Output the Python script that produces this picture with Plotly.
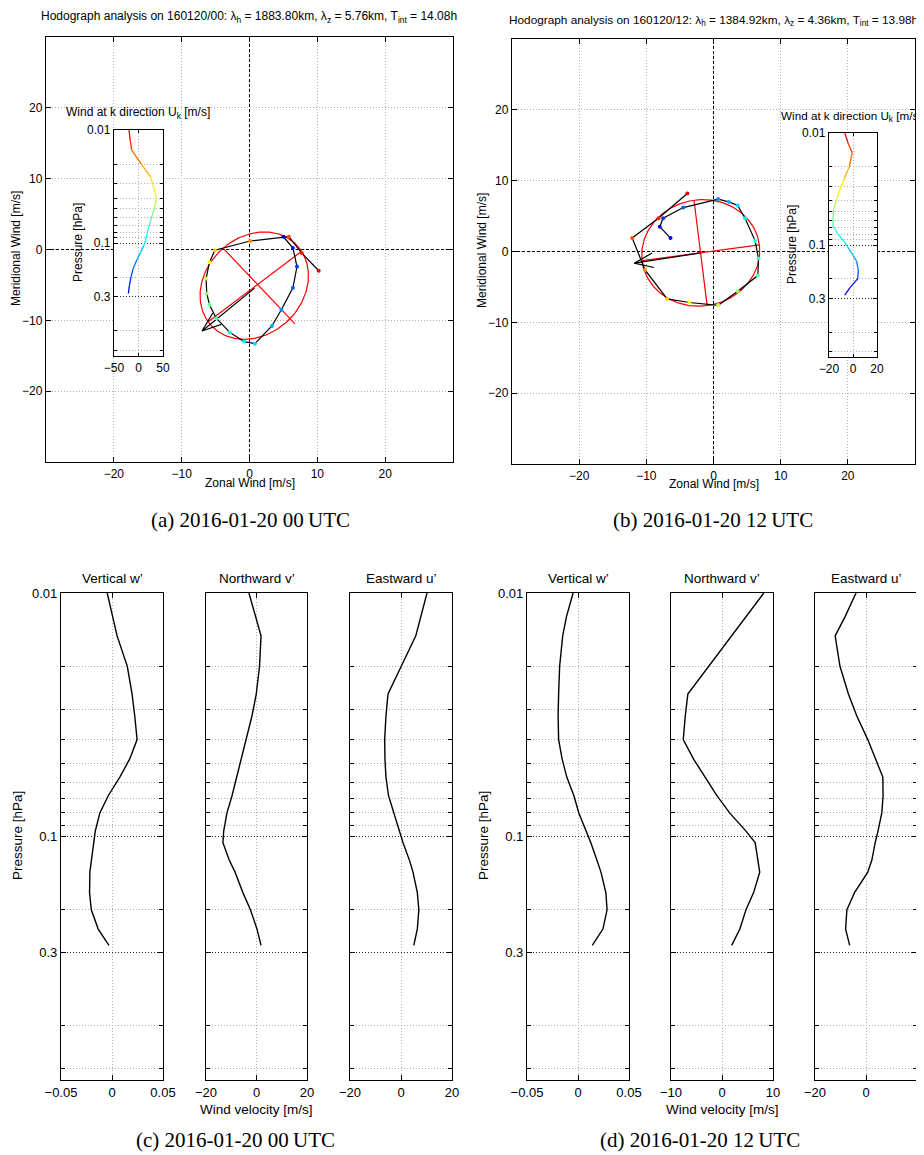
import numpy as np
import plotly.graph_objects as go

# page coordinates of the reference (924 x 1155); the page body adds an 8 px margin
PAGE_W, PAGE_H, OFF = 924, 1155, 8
FW, FH = PAGE_W - OFF, PAGE_H - OFF

# ---------------- data ----------------
# pressure levels [hPa] shared by all profiles (top -> bottom)
P = [0.01, 0.0125, 0.015, 0.02, 0.026, 0.032, 0.04, 0.048, 0.057, 0.068,
     0.08, 0.095, 0.106, 0.125, 0.14, 0.17, 0.2, 0.24, 0.28]

# 2016-01-20 00 UTC perturbations
W_C = [-0.0047, 0.001, 0.005, 0.015, 0.0197, 0.0223, 0.0246, 0.0174, 0.0077, -0.0037,
       -0.0119, -0.0164, -0.018, -0.020, -0.0217, -0.022, -0.0203, -0.0135, -0.003]
V_C = [-3.0, -0.5, 1.8, 1.2, -0.1, -1.8, -4.1, -6.2, -7.8, -9.7,
       -11.7, -13.0, -13.3, -10.8, -8.5, -5.4, -2.4, 0.2, 1.8]
U_C = [10.2, 7.7, 5.8, 0.1, -5.1, -5.9, -6.4, -6.3, -5.9, -4.9,
       -2.9, -0.8, 0.8, 3.3, 4.7, 6.4, 7.0, 6.4, 5.0]
UK_A = [-19.4, -16.7, -14.0, 5.8, 24.8, 30.9, 36.4, 33.0, 28.0, 22.8,
        18.0, 14.6, 10.5, 2.4, -3.0, -11.2, -15.3, -18.7, -20.7]

# 2016-01-20 12 UTC perturbations
W_D = [-0.0048, -0.0113, -0.015, -0.018, -0.019, -0.0195, -0.019, -0.0156, -0.011, -0.004,
       0.0008, 0.008, 0.0126, 0.0185, 0.0225, 0.0273, 0.0285, 0.0244, 0.014]
V_D = [8.2, 4.7, 1.9, -2.6, -6.7, -7.2, -7.6, -5.6, -3.4, -1.0,
       1.5, 4.7, 6.5, 7.0, 7.4, 6.2, 4.7, 3.5, 1.9]
U_D = [-3.9, -8.2, -12.1, -10.2, -6.9, -3.6, 0.7, 3.6, 6.6, 6.7,
       6.2, 4.7, 3.6, 2.3, 0.7, -4.5, -7.5, -8.0, -6.4]
UK_B = [-6.8, -3.9, -0.6, -3.1, -7.6, -11.0, -13.8, -16.1, -16.6, -16.6,
        -12.4, -6.8, -3.9, 0.3, 3.1, 4.5, 3.9, -2.5, -6.8]

# fitted ellipses: centre (u, v), semi-axes (a, b), tilt [deg]
ELL_CENTER_A = [0.7, -5.1]
ELL_SEMI_A = [8.5, 7.0]
ELL_TILT_A = 37
ELL_CENTER_B = [-1.9, -0.2]
ELL_SEMI_B = [8.8, 7.5]
ELL_TILT_B = 7

# red axis lines (u list, v list)
MAJOR_A_U, MAJOR_A_V = [7.7, -6.1], [-0.24, -10.2]
MINOR_A_U, MINOR_A_V = [-3.8, 6.7], [0.1, -10.5]
MAJOR_B_U, MAJOR_B_V = [6.8, -10.6], [0.94, -1.3]
MINOR_B_U, MINOR_B_V = [-2.9, -0.95], [7.2, -7.6]

# arrows (start u, start v, end u, end v)
ARROW_A = [0.75, -5.45, -7.0, -11.5]
ARROW_B = [-1.9, -0.2, -11.8, -1.65]

HODO_RANGE = [-30, 30]
HODO_TICKS = [-20, -10, 0, 10, 20]
HODO_TEXT = ["\u221220", "\u221210", "0", "10", "20"]
PRESS_TICKS = [0.01, 0.1, 0.3]
PRESS_TEXT = ["0.01", "0.1", "0.3"]
PRESS_MINOR = [0.02, 0.03, 0.04, 0.05, 0.06, 0.07, 0.08, 0.09, 0.2, 0.6, 0.9]

TITLE_A = ("Hodograph analysis on 160120/00: \u03bb<sub>h</sub> = 1883.80km, "
           "\u03bb<sub>z</sub> = 5.76km, T<sub>int</sub> = 14.08h")
TITLE_B = ("Hodograph analysis on 160120/12: \u03bb<sub>h</sub> = 1384.92km, "
           "\u03bb<sub>z</sub> = 4.36km, T<sub>int</sub> = 13.98h")

SANS = "Liberation Sans"
SERIF = "Liberation Serif"


def jet(t):
    r = min(max(1.5 - abs(4 * t - 3), 0), 1)
    g = min(max(1.5 - abs(4 * t - 2), 0), 1)
    b = min(max(1.5 - abs(4 * t - 1), 0), 1)
    return "rgb(%d,%d,%d)" % (255 * r, 255 * g, 255 * b)


lp = np.log10(P)
tnorm = (lp.max() - lp) / (lp.max() - lp.min())
COLORS = [jet(0.1 + 0.8 * t) for t in tnorm]


def xd(p0, p1):
    return [(p0 - OFF) / FW, (p1 - OFF) / FW]


def yd(p0, p1):
    return [1 - (p1 - OFF) / FH, 1 - (p0 - OFF) / FH]


def names(n):
    s = "" if n == 1 else str(n)
    return "x" + s, "y" + s, "xaxis" + s, "yaxis" + s


def base_axis(**kw):
    d = dict(showline=True, linecolor="black", linewidth=1.3, mirror="ticks",
             ticks="inside", ticklen=5, tickwidth=1, tickcolor="black",
             showgrid=True, gridcolor="#b0b0b0", griddash="1px,2px", gridwidth=1,
             zeroline=False, fixedrange=True, automargin=False,
             tickfont=dict(family=SANS, size=12, color="black"))
    d.update(kw)
    return d


def press_axis(domain, anchor, labels=True, size=12, ticklen=5):
    return base_axis(domain=domain, anchor=anchor, type="log", range=[0, -2],
                     tickvals=PRESS_TICKS, ticktext=PRESS_TEXT, showticklabels=labels,
                     gridcolor="#222222", ticklen=ticklen,
                     tickfont=dict(family=SANS, size=size, color="black"),
                     minor=dict(tickvals=PRESS_MINOR, ticks="inside", ticklen=ticklen - 1,
                                tickcolor="black", showgrid=True, gridcolor="#b0b0b0",
                                griddash="1px,2px", gridwidth=1))


fig = go.Figure()
layout = dict(width=FW, height=FH, margin=dict(l=0, r=0, t=0, b=0, autoexpand=False),
              autosize=False, paper_bgcolor="white", plot_bgcolor="white", showlegend=False)
annotations = []


def ann(text, px, py, size, family=SANS, angle=0):
    annotations.append(dict(text=text, x=(px - OFF) / FW, y=1 - (py - OFF) / FH,
                            xref="paper", yref="paper",
                            showarrow=False, textangle=angle, xanchor="center", yanchor="middle",
                            font=dict(family=family, size=size, color="black")))


def ellipse(center, semi, tilt):
    th = np.deg2rad(tilt)
    s = np.linspace(0, 2 * np.pi, 240)
    u = center[0] + semi[0] * np.cos(s) * np.cos(th) - semi[1] * np.sin(s) * np.sin(th)
    v = center[1] + semi[0] * np.cos(s) * np.sin(th) + semi[1] * np.sin(s) * np.cos(th)
    return u, v


def hodograph(n, u, v, center, semi, tilt, major, minor, arrow, dom_x, dom_y):
    xa, ya, xk, yk = names(n)
    layout[xk] = base_axis(domain=dom_x, anchor=ya, range=HODO_RANGE,
                           tickvals=HODO_TICKS, ticktext=HODO_TEXT)
    layout[yk] = base_axis(domain=dom_y, anchor=xa, range=HODO_RANGE,
                           tickvals=HODO_TICKS, ticktext=HODO_TEXT)
    # dashed zero lines
    for lx, ly in (([0, 0], HODO_RANGE), (HODO_RANGE, [0, 0])):
        fig.add_trace(go.Scatter(x=lx, y=ly, mode="lines",
                                 line=dict(color="black", width=1, dash="3px,2px"),
                                 xaxis=xa, yaxis=ya, hoverinfo="skip"))
    eu, ev = ellipse(center, semi, tilt)
    fig.add_trace(go.Scatter(x=eu, y=ev, mode="lines", line=dict(color="red", width=1.2),
                             xaxis=xa, yaxis=ya, hoverinfo="skip"))
    for lu, lv in (major, minor):
        fig.add_trace(go.Scatter(x=lu, y=lv, mode="lines", line=dict(color="red", width=1.2),
                                 xaxis=xa, yaxis=ya, hoverinfo="skip"))
    # arrow with open head
    su, sv, tu, tv = arrow
    d = np.array([su - tu, sv - tv])
    d = d / np.hypot(*d)
    bl = 3.0
    barbs = []
    for ang in (20, -20):
        a = np.deg2rad(ang)
        r = np.array([d[0] * np.cos(a) - d[1] * np.sin(a), d[0] * np.sin(a) + d[1] * np.cos(a)])
        barbs.append((tu + bl * r[0], tv + bl * r[1]))
    fig.add_trace(go.Scatter(x=[su, tu, barbs[0][0], None, tu, barbs[1][0]],
                             y=[sv, tv, barbs[0][1], None, tv, barbs[1][1]],
                             mode="lines", line=dict(color="black", width=1.2),
                             xaxis=xa, yaxis=ya, hoverinfo="skip"))
    fig.add_trace(go.Scatter(x=u, y=v, mode="lines+markers",
                             line=dict(color="black", width=1.2),
                             marker=dict(color=COLORS, size=4),
                             xaxis=xa, yaxis=ya, hoverinfo="skip"))


def tick_text(xt):
    return [("\u2212%g" % -t) if t < 0 else "%g" % t for t in xt]


def inset(n, uk, xr, xt, dom_x, dom_y):
    xa, ya, xk, yk = names(n)
    layout[xk] = base_axis(domain=dom_x, anchor=ya, range=xr, tickvals=xt,
                           ticktext=tick_text(xt), ticklen=3)
    layout[yk] = press_axis(dom_y, xa, labels=True, size=12, ticklen=4)
    for i in range(len(P) - 1):
        fig.add_trace(go.Scatter(x=uk[i:i + 2], y=P[i:i + 2], mode="lines",
                                 line=dict(color=jet(0.1 + 0.8 * (tnorm[i] + tnorm[i + 1]) / 2), width=1.3),
                                 xaxis=xa, yaxis=ya, hoverinfo="skip"))


def profile(n, vals, xr, xt, dom_x, labels):
    xa, ya, xk, yk = names(n)
    layout[xk] = base_axis(domain=dom_x, anchor=ya, range=xr, tickvals=xt,
                           ticktext=tick_text(xt),
                           tickfont=dict(family=SANS, size=13, color="black"))
    layout[yk] = press_axis(yd(593, 1080), xa, labels=labels, size=13, ticklen=5)
    fig.add_trace(go.Scatter(x=vals, y=P, mode="lines", line=dict(color="black", width=1.4),
                             xaxis=xa, yaxis=ya, hoverinfo="skip"))


# ---- top row ----
hodograph(1, U_C, V_C, ELL_CENTER_A, ELL_SEMI_A, ELL_TILT_A, (MAJOR_A_U, MAJOR_A_V),
          (MINOR_A_U, MINOR_A_V), ARROW_A, xd(46, 453), yd(37, 462))
inset(2, UK_A, [-50, 50], [-50, 0, 50], xd(114, 163), yd(130, 356))
hodograph(3, U_D, V_D, ELL_CENTER_B, ELL_SEMI_B, ELL_TILT_B, (MAJOR_B_U, MAJOR_B_V),
          (MINOR_B_U, MINOR_B_V), ARROW_B, xd(512, 915), yd(39, 464))
inset(4, UK_B, [-20, 20], [-20, 0, 20], xd(829, 877), yd(133, 357))

# ---- bottom row ----
profile(5, W_C, [-0.05, 0.05], [-0.05, 0, 0.05], xd(61, 163), True)
profile(6, V_C, [-20, 20], [-20, 0, 20], xd(206, 307), False)
profile(7, U_C, [-20, 20], [-20, 0, 20], xd(350, 452), False)
profile(8, W_D, [-0.05, 0.05], [-0.05, 0, 0.05], xd(527, 629), True)
profile(9, V_D, [-10, 10], [-10, 0, 10], xd(671, 773), False)
profile(10, U_D, [-20, 20], [-20, 0, 20], xd(815, 917), False)

# ---- texts ----
ann(TITLE_A, 249, 17, 12)
ann(TITLE_B, 713, 21, 11.8)
ann("Zonal Wind [m/s]", 250, 483, 12)
ann("Zonal Wind [m/s]", 714, 484, 12)
ann("Meridional Wind [m/s]", 16, 249, 12, angle=-90)
ann("Meridional Wind [m/s]", 482, 251, 12, angle=-90)
ann("Wind at k direction U<sub>k</sub> [m/s]", 138, 113, 12)
ann("Wind at k direction U<sub>k</sub> [m/s]", 851, 116, 11.7)
ann("Pressure [hPa]", 78, 243, 12, angle=-90)
ann("Pressure [hPa]", 792, 245, 12, angle=-90)
ann("(a) 2016-01-20 00\u2009UTC", 250, 520, 21, family=SERIF)
ann("(b) 2016-01-20 12\u2009UTC", 713, 520, 21, family=SERIF)
ann("(c) 2016-01-20 00\u2009UTC", 235, 1140, 21, family=SERIF)
ann("(d) 2016-01-20 12\u2009UTC", 700, 1140, 21, family=SERIF)
for x0, x1, ttl in ((61, 163, "Vertical w\u2019"), (206, 307, "Northward v\u2019"),
                    (350, 452, "Eastward u\u2019"), (527, 629, "Vertical w\u2019"),
                    (671, 773, "Northward v\u2019"), (815, 917, "Eastward u\u2019")):
    ann(ttl, (x0 + x1) / 2, 578, 13.5)
ann("Wind velocity [m/s]", 256.5, 1109, 13.5)
ann("Wind velocity [m/s]", 722, 1109, 13.5)
ann("Pressure [hPa]", 18, 836, 13.5, angle=-90)
ann("Pressure [hPa]", 484, 836, 13.5, angle=-90)

layout["annotations"] = annotations
fig.update_layout(**layout)
fig.write_html("out.html")
